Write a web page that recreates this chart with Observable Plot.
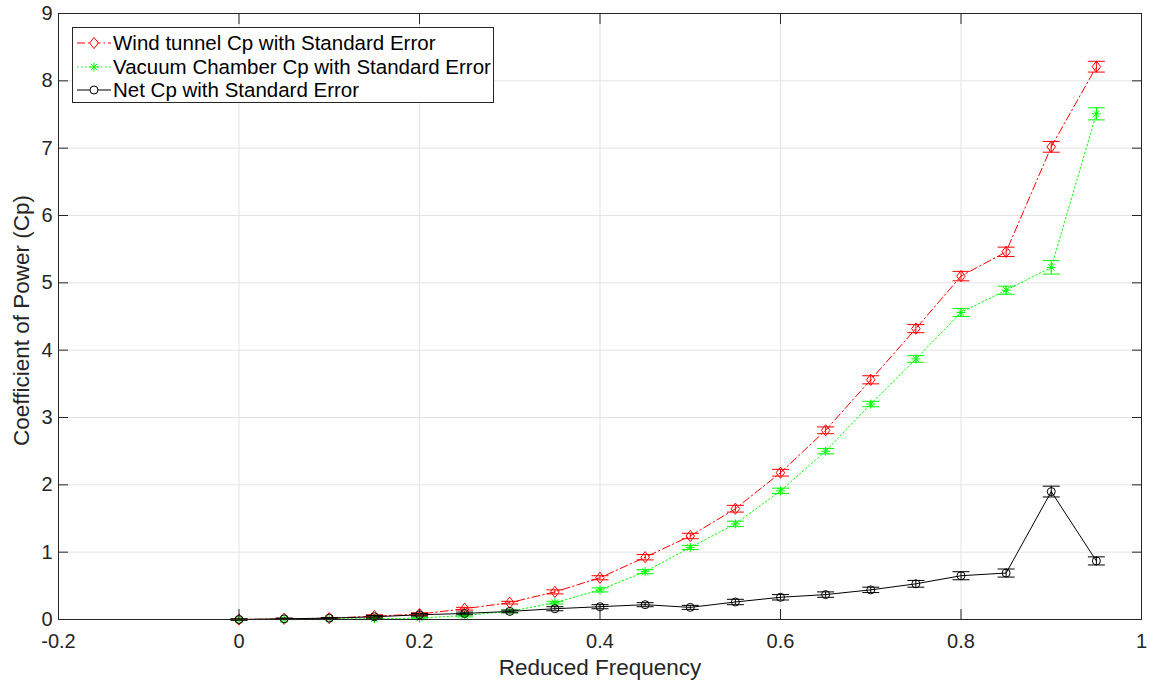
<!DOCTYPE html>
<html><head><meta charset="utf-8">
<script src="https://cdn.jsdelivr.net/npm/d3@7"></script>
<script src="https://cdn.jsdelivr.net/npm/@observablehq/plot@0.6"></script>
<style>
body{margin:0;background:#fff;font-family:"Liberation Sans",Arial,Helvetica,sans-serif;}
#wrap{position:relative;width:1152px;height:685px;}
#legend{position:absolute;left:72px;top:27px;width:422px;height:76px;border:1px solid #262626;background:#fff;box-sizing:border-box;}
.row{position:absolute;left:3px;height:24px;display:flex;align-items:center;font-size:20.5px;color:#000;white-space:nowrap;}
.row svg{margin-right:1px;}
</style></head><body><div id="wrap"></div>
<script>
const freq = [0,0.05,0.1,0.15,0.2,0.25,0.3,0.35,0.4,0.45,0.5,0.55,0.6,0.65,0.7,0.75,0.8,0.85,0.9,0.95];
const windCp = [0,0.01,0.02,0.05,0.08,0.16,0.25,0.41,0.62,0.925,1.24,1.645,2.18,2.81,3.56,4.32,5.10,5.46,7.02,8.21];
const windErr = [0.01,0.01,0.01,0.02,0.02,0.02,0.02,0.03,0.03,0.04,0.04,0.05,0.05,0.05,0.06,0.06,0.07,0.07,0.08,0.08];
const vacuumCp = [0,0.003,0.01,0.01,0.02,0.06,0.12,0.25,0.44,0.71,1.07,1.42,1.91,2.50,3.20,3.87,4.56,4.89,5.23,7.51];
const vacuumErr = [0.005,0.005,0.01,0.01,0.01,0.02,0.02,0.02,0.03,0.03,0.03,0.04,0.04,0.04,0.04,0.05,0.06,0.06,0.10,0.09];
const netCp = [0,0.01,0.02,0.04,0.07,0.09,0.12,0.16,0.19,0.22,0.18,0.26,0.33,0.37,0.44,0.53,0.65,0.69,1.90,0.87];
const netErr = [0.01,0.01,0.01,0.02,0.02,0.02,0.02,0.03,0.03,0.03,0.03,0.04,0.04,0.04,0.04,0.05,0.06,0.06,0.08,0.06];
const seriesNames = ["Wind tunnel Cp with Standard Error","Vacuum Chamber Cp with Standard Error","Net Cp with Standard Error"];
const seriesColors = ["#ff0000","#00ff00","#000000"];
const seriesDash = ["8,3,1.5,3","1.5,2.5",null];
const xTicks = [-0.2,0,0.2,0.4,0.6,0.8,1];
const yTicks = [0,1,2,3,4,5,6,7,8,9];
const xLabel = "Reduced Frequency";
const yLabel = "Coefficient of Power (Cp)";

// marker shapes
const diamond = {draw(c, size){const r=Math.sqrt(size/Math.PI); c.moveTo(0,-r*1.25); c.lineTo(r*0.95,0); c.lineTo(0,r*1.25); c.lineTo(-r*0.95,0); c.closePath();}};
const star8 = {draw(c, size){const r=Math.sqrt(size/Math.PI); const d=r*0.72; c.moveTo(-r,0); c.lineTo(r,0); c.moveTo(0,-r); c.lineTo(0,r); c.moveTo(-d,-d); c.lineTo(d,d); c.moveTo(-d,d); c.lineTo(d,-d);}};
const ring = {draw(c, size){const r=Math.sqrt(size/Math.PI); c.moveTo(r,0); c.arc(0,0,r,0,2*Math.PI);}};
const hline = {draw(c, size){const r=Math.sqrt(size/Math.PI); c.moveTo(-r,0); c.lineTo(r,0);}};
const seriesMarkers = [diamond, star8, ring];
const markerR = [4.5, 4.5, 4.0];

const allValues = [windCp, vacuumCp, netCp];
const allErr = [windErr, vacuumErr, netErr];
const seriesData = allValues.map((vals, s) => freq.map((x, i) => ({x, y: vals[i], e: allErr[s][i]})));

const fmt = d => String(+d.toFixed(1));
const noText = () => "";
const marks = [
  Plot.gridX(xTicks, {stroke:"#e3e3e3", strokeOpacity:1}),
  Plot.gridY(yTicks, {stroke:"#e3e3e3", strokeOpacity:1})
];
seriesData.forEach((rows, s) => {
  const stroke = seriesColors[s];
  marks.push(
    Plot.line(rows, {x:"x", y:"y", stroke, strokeWidth:1, strokeDasharray: seriesDash[s]}),
    Plot.ruleX(rows, {x:"x", y1: d => d.y - d.e, y2: d => d.y + d.e, stroke, strokeWidth:1}),
    Plot.dot(rows, {x:"x", y: d => d.y + d.e, symbol: hline, r: 8.5, stroke, fill:"none", strokeWidth:1}),
    Plot.dot(rows, {x:"x", y: d => d.y - d.e, symbol: hline, r: 8.5, stroke, fill:"none", strokeWidth:1}),
    Plot.dot(rows, {x:"x", y:"y", symbol: seriesMarkers[s], r: markerR[s], stroke, fill:"none", strokeWidth:1})
  );
});
marks.push(
  Plot.frame({stroke:"#262626", strokeWidth:1}),
  Plot.axisX(xTicks, {anchor:"bottom", tickSize:0, tickPadding:14, tickFormat: fmt, fontSize:20, fill:"#262626", label:null}),
  Plot.axisY(yTicks, {anchor:"left", tickSize:0, tickPadding:6, tickFormat: fmt, fontSize:20, fill:"#262626", label:null}),
  Plot.axisX(xTicks, {anchor:"bottom", tickSize:-10, tickFormat:noText, stroke:"#262626", label:null}),
  Plot.axisX(xTicks, {anchor:"top", tickSize:-10, tickFormat:noText, stroke:"#262626", label:null}),
  Plot.axisY(yTicks, {anchor:"left", tickSize:-10, tickFormat:noText, stroke:"#262626", label:null}),
  Plot.axisY(yTicks, {anchor:"right", tickSize:-10, tickFormat:noText, stroke:"#262626", label:null}),
  Plot.text([xLabel], {frameAnchor:"bottom", dy:55, fontSize:22.5, fill:"#262626"}),
  Plot.text([yLabel], {frameAnchor:"left", textAnchor:"middle", dx:-37, dy:4, rotate:-90, fontSize:22.5, fill:"#262626"})
);

const chart = Plot.plot({
  width:1152, height:685,
  marginLeft:58, marginRight:11, marginTop:13, marginBottom:66,
  style:{fontFamily:'"Liberation Sans", Arial, Helvetica, sans-serif', background:"#fff", overflow:"visible"},
  x:{domain:[-0.2,1]},
  y:{domain:[0,9]},
  marks
});
const wrap = document.getElementById("wrap");
wrap.appendChild(chart);

// legend
const legend = document.createElement("div");
legend.id = "legend";
const rowTops = [3, 26.5, 50];
seriesNames.forEach((name, s) => {
  const row = document.createElement("div");
  row.className = "row";
  row.style.top = rowTops[s] + "px";
  const svg = d3.create("svg").attr("width", 36).attr("height", 22);
  svg.append("line").attr("x1",1).attr("x2",35).attr("y1",11).attr("y2",11)
    .attr("stroke", seriesColors[s]).attr("stroke-width",1).attr("stroke-dasharray", seriesDash[s]);
  svg.append("path").attr("transform","translate(18,11)")
    .attr("d", d3.symbol(seriesMarkers[s], markerR[s]*markerR[s]*Math.PI)())
    .attr("fill","#fff").attr("stroke", seriesColors[s]).attr("stroke-width",1);
  row.appendChild(svg.node());
  const span = document.createElement("span");
  span.textContent = name;
  row.appendChild(span);
  legend.appendChild(row);
});
wrap.appendChild(legend);
</script></body></html>
